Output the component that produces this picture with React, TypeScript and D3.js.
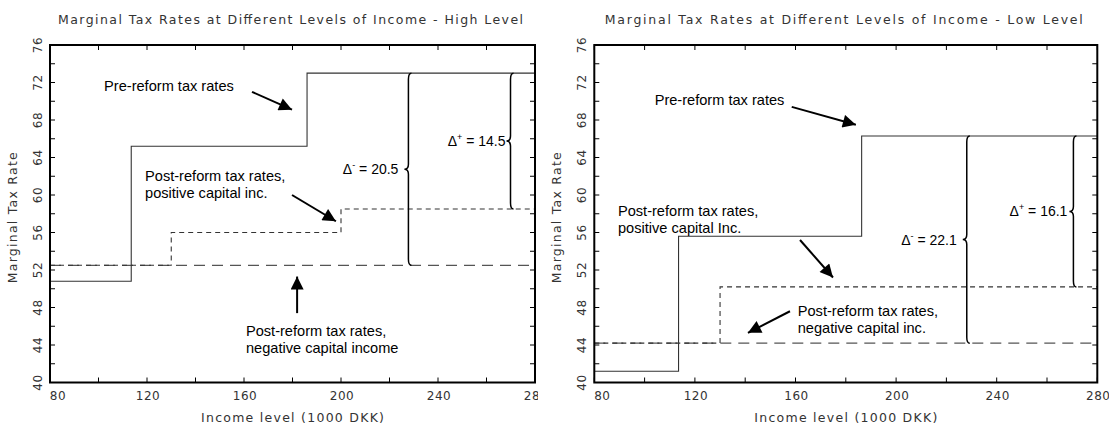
import * as d3 from 'd3';

// income (1000 DKK) / marginal rate (%) step points: value holds until next income
const highPre: [number, number][] = [[80, 50.8], [113.5, 65.2], [186, 73], [280, 73]];
const highPosCap: [number, number][] = [[80, 52.5], [130, 56], [200, 58.5], [280, 58.5]];
const highNegCap: [number, number][] = [[80, 52.5], [280, 52.5]];

const lowPre: [number, number][] = [[80, 41.2], [113.5, 55.6], [186.3, 66.3], [280, 66.3]];
const lowPosCap: [number, number][] = [[80, 44.2], [130, 50.2], [280, 50.2]];
const lowNegCap: [number, number][] = [[80, 44.2], [280, 44.2]];

const xTicks = [80, 120, 160, 200, 240, 280];
const xMinor = d3.range(80, 281, 20);
const yTicks = d3.range(40, 77, 4);
const yMinor = d3.range(40, 77, 2);

interface Brace { income: number; top: number; bottom: number; sign: string; label: string; gap: number }
interface Note { lines: string[]; x: number; y: number; from: [number, number]; to: [number, number] }

const highBraces: Brace[] = [
  { income: 227.8, top: 73, bottom: 52.5, sign: '-', label: '20.5', gap: 10 },
  { income: 269.9, top: 73, bottom: 58.5, sign: '+', label: '14.5', gap: 5 },
];
const lowBraces: Brace[] = [
  { income: 228.1, top: 66.3, bottom: 44.2, sign: '-', label: '22.1', gap: 10 },
  { income: 270.5, top: 66.3, bottom: 50.2, sign: '+', label: '16.1', gap: 6 },
];

const highNotes: Note[] = [
  { lines: ['Pre-reform tax rates'], x: 102.3, y: 71.1, from: [163.3, 71.0], to: [179.8, 69.1] },
  { lines: ['Post-reform tax rates,', 'positive capital inc.'], x: 119.2, y: 61.5, from: [179.8, 60.0], to: [197.9, 57.2] },
  { lines: ['Post-reform tax rates,', 'negative capital income'], x: 160.8, y: 45.0, from: [181.9, 47.4], to: [181.9, 51.3] },
];
const lowNotes: Note[] = [
  { lines: ['Pre-reform tax rates'], x: 104.0, y: 69.6, from: [158.5, 69.4], to: [184.0, 67.5] },
  { lines: ['Post-reform tax rates,', 'positive capital Inc.'], x: 89.4, y: 57.8, from: [161.8, 55.2], to: [174.9, 51.2] },
  { lines: ['Post-reform tax rates,', 'negative capital inc.'], x: 160.9, y: 47.1, from: [157.8, 47.6], to: [141.1, 45.3] },
];

const thin = '"DejaVu Sans", sans-serif';
const arial = '"Liberation Sans", Arial, sans-serif';

function bracePath(x: number, y1: number, y2: number) {
  const ym = (y1 + y2) / 2;
  return `M${x + 3},${y1} Q${x},${y1} ${x},${y1 + 6} L${x},${ym - 5} Q${x},${ym} ${x - 4},${ym} ` +
    `Q${x},${ym} ${x},${ym + 5} L${x},${y2 - 6} Q${x},${y2} ${x + 3},${y2}`;
}

function Panel(props: {
  id: string; x0: number; x1: number; clipW: number; title: string; titleW: number;
  pre: [number, number][]; pos: [number, number][]; neg: [number, number][];
  braces: Brace[]; notes: Note[];
}) {
  const { id, x0, x1, clipW, title, titleW, pre, pos, neg, braces, notes } = props;
  const top = 45, bottom = 382.5;
  const x = d3.scaleLinear().domain([80, 280]).range([x0, x1]);
  const y = d3.scaleLinear().domain([40, 76]).range([bottom, top]);
  const line = d3.line<[number, number]>().x(d => x(d[0])).y(d => y(d[1])).curve(d3.curveStepAfter);
  const cx = (x0 + x1) / 2;
  const cy = (top + bottom) / 2;
  return (
    <g clipPath={`url(#panel-${id})`}>
      <defs>
        <clipPath id={`panel-${id}`}><rect x={x0 - 60} y={0} width={clipW} height={428} /></clipPath>
        <clipPath id={`plot-${id}`}><rect x={x0} y={top} width={x1 - x0} height={bottom - top} /></clipPath>
        <marker id={`arrow-${id}`} viewBox="0 0 10 10" refX={10} refY={5} markerUnits="userSpaceOnUse"
          markerWidth={15} markerHeight={13} orient="auto">
          <path d="M0,0 L10,5 L0,10 Z" fill="#000" />
        </marker>
      </defs>
      <text x={cx - 2} y={24} textAnchor="middle" fontFamily={thin} fontSize={12.5} fill="#333"
        textLength={titleW} lengthAdjust="spacing">{title}</text>
      <text transform={`translate(${x0 - 33},${cy + 4}) rotate(-90)`} textAnchor="middle" fontFamily={thin}
        fontSize={12.5} fill="#333" textLength={131} lengthAdjust="spacing">Marginal Tax Rate</text>
      <text x={cx} y={422} textAnchor="middle" fontFamily={thin} fontSize={12.5} fill="#333"
        textLength={183} lengthAdjust="spacing">Income level (1000 DKK)</text>

      <g clipPath={`url(#plot-${id})`} fill="none">
        <path d={line(neg) ?? ''} stroke="#555" strokeWidth={1.2} strokeDasharray="11,7" />
        <path d={line(pos) ?? ''} stroke="#333" strokeWidth={1.1} strokeDasharray="5,4" />
        <path d={line(pre) ?? ''} stroke="#333" strokeWidth={1.1} />
      </g>

      {yMinor.map(v => (
        <g key={`y${v}`} stroke="#000" strokeWidth={1}>
          <line x1={x0} x2={x0 + 5} y1={y(v)} y2={y(v)} />
          <line x1={x1} x2={x1 - 5} y1={y(v)} y2={y(v)} />
        </g>
      ))}
      {xMinor.map(v => (
        <g key={`x${v}`} stroke="#000" strokeWidth={1}>
          <line x1={x(v)} x2={x(v)} y1={bottom} y2={bottom - 5} />
          <line x1={x(v)} x2={x(v)} y1={top} y2={top + 5} />
        </g>
      ))}
      <rect x={x0} y={top} width={x1 - x0} height={bottom - top} fill="none" stroke="#000" strokeWidth={2} />

      {yTicks.map(v => (
        <text key={`yl${v}`} transform={`translate(${x0 - 8},${y(v)}) rotate(-90)`} textAnchor="middle"
          fontFamily={thin} fontSize={12} fill="#333" letterSpacing={0.5}>{v}</text>
      ))}
      {xTicks.map((v, i) => (
        <text key={`xl${v}`} x={x(v) + (i === 0 ? 8 : 1)} y={400} textAnchor="middle"
          fontFamily={thin} fontSize={12} fill="#333" letterSpacing={0.5}>{v}</text>
      ))}

      {braces.map(b => {
        const bx = x(b.income);
        const ym = (y(b.top) + y(b.bottom)) / 2;
        return (
          <g key={b.label}>
            <path d={bracePath(bx, y(b.top), y(b.bottom))} fill="none" stroke="#000" strokeWidth={1.5} />
            <text x={bx - b.gap} y={ym + 5} textAnchor="end" fontFamily={arial} fontSize={14} fill="#000">
              Δ<tspan fontSize={9} dy={-6}>{b.sign === '-' ? '-' : '+'}</tspan>
              <tspan dy={6}>{` = ${b.label}`}</tspan>
            </text>
          </g>
        );
      })}

      {notes.map(n => (
        <g key={n.lines.join()}>
          {n.lines.map((t, i) => (
            <text key={t} x={x(n.x)} y={y(n.y) + i * 17.5} fontFamily={arial} fontSize={14.6} fill="#000">{t}</text>
          ))}
          <line x1={x(n.from[0])} y1={y(n.from[1])} x2={x(n.to[0])} y2={y(n.to[1])} stroke="#000"
            strokeWidth={2} markerEnd={`url(#arrow-${id})`} />
        </g>
      ))}
    </g>
  );
}

export default function App() {
  return (
    <div style={{ position: 'absolute', left: 0, top: 0 }}>
      <svg width={1109} height={428} style={{ display: 'block', background: '#fff' }}>
        <Panel id="high" x0={50} x1={535} clipW={548} title="Marginal Tax Rates at Different Levels of Income - High Level"
          titleW={465} pre={highPre} pos={highPosCap} neg={highNegCap} braces={highBraces} notes={highNotes} />
        <Panel id="low" x0={594.3} x1={1097.3} clipW={580} title="Marginal Tax Rates at Different Levels of Income - Low Level"
          titleW={478} pre={lowPre} pos={lowPosCap} neg={lowNegCap} braces={lowBraces} notes={lowNotes} />
      </svg>
    </div>
  );
}
